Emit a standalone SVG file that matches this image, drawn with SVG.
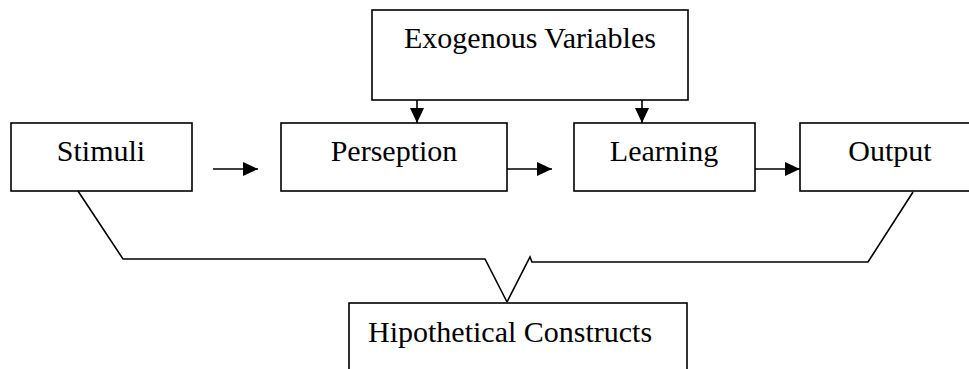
<svg xmlns="http://www.w3.org/2000/svg" width="969" height="369" viewBox="0 0 969 369">
<defs>
<style>
.box{fill:#fff;stroke:#000;stroke-width:1.6}
.lbl{font-family:"Liberation Serif","Times New Roman",serif;font-size:30px;fill:#000}
.mid{text-anchor:middle}
.ln{fill:none;stroke:#000;stroke-width:1.6}
</style>
<marker id="ah" markerUnits="userSpaceOnUse" markerWidth="16" markerHeight="15" refX="15" refY="7" orient="auto" viewBox="0 0 16 15">
<path d="M0,0 L15,7 L0,14 z" fill="#000"/>
</marker>
</defs>
<rect width="969" height="369" fill="#fff"/>
<g id="exogenous">
<rect class="box" x="372" y="10" width="316" height="90"/>
<text class="lbl mid" x="530" y="48">Exogenous Variables</text>
</g>
<g id="stimuli">
<rect class="box" x="11" y="123" width="181" height="68"/>
<text class="lbl mid" x="101" y="161">Stimuli</text>
</g>
<g id="perseption">
<rect class="box" x="281" y="123" width="226" height="68"/>
<text class="lbl mid" x="394" y="161">Perseption</text>
</g>
<g id="learning">
<rect class="box" x="574" y="123" width="181" height="68"/>
<text class="lbl mid" x="664" y="161">Learning</text>
</g>
<g id="output">
<rect class="box" x="800" y="123" width="180" height="68"/>
<text class="lbl mid" x="890" y="161">Output</text>
</g>
<g id="hipothetical">
<rect class="box" x="349" y="303" width="338" height="80"/>
<text class="lbl" x="368" y="342">Hipothetical Constructs</text>
</g>
<g id="connectors">
<line class="ln" x1="213" y1="169" x2="258" y2="169" marker-end="url(#ah)"/>
<line class="ln" x1="507" y1="169" x2="552" y2="169" marker-end="url(#ah)"/>
<line class="ln" x1="755" y1="169" x2="800" y2="169" marker-end="url(#ah)"/>
<line class="ln" x1="417" y1="100" x2="417" y2="123" marker-end="url(#ah)"/>
<line class="ln" x1="642" y1="100" x2="642" y2="123" marker-end="url(#ah)"/>
<polyline class="ln" points="78,191 123,259 485,259 507,302"/>
<polyline class="ln" points="507,302 530,257 532,262 868,262 913,192"/>
</g>
</svg>
